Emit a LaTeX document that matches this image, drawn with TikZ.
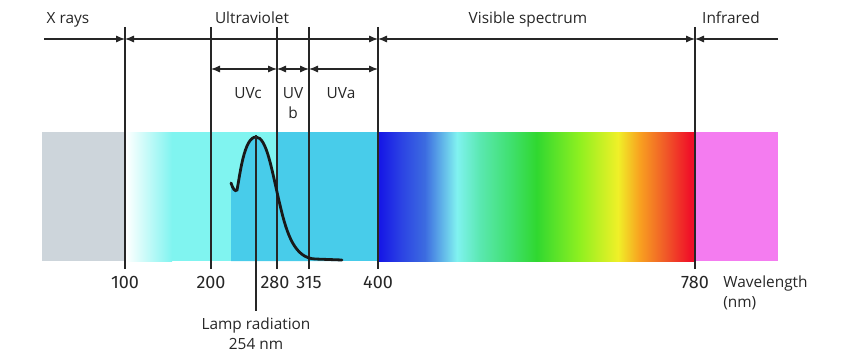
\documentclass[tikz,border=0pt]{standalone}
\usepackage{fontspec}
\usepackage{xcolor}
\setmainfont{Open Sans}
\newfontfamily\numfont{Fira Sans}
\usetikzlibrary{arrows.meta}

\definecolor{xraygrey}{HTML}{CDD5DB}
\definecolor{uvlight}{HTML}{80F4F0}
\definecolor{uvdark}{HTML}{48CCEA}
\definecolor{irpink}{HTML}{F47CF0}
\definecolor{visblue}{HTML}{1414E6}
\definecolor{visblueb}{HTML}{2A40E4}
\definecolor{visbluec}{HTML}{3C6CE0}
\definecolor{viscyan}{HTML}{80F2F0}
\definecolor{visteal}{HTML}{5AE8B0}
\definecolor{visgreena}{HTML}{40E070}
\definecolor{visgreen}{HTML}{30D830}
\definecolor{vislime}{HTML}{90F020}
\definecolor{visyellow}{HTML}{F0F028}
\definecolor{visorange}{HTML}{F8A020}
\definecolor{visorangeb}{HTML}{F05A28}
\definecolor{visred}{HTML}{F01028}

\pgfdeclarehorizontalshading{visiblespec}{100bp}{%
  color(0bp)=(visblue); color(25bp)=(visblue); color(28.45bp)=(visblueb);
  color(32.4bp)=(visbluec); color(37.45bp)=(viscyan); color(41.1bp)=(visteal);
  color(45.8bp)=(visgreena); color(50bp)=(visgreen); color(56.85bp)=(vislime);
  color(62.85bp)=(visyellow); color(66.3bp)=(visorange); color(70.25bp)=(visorangeb);
  color(74.2bp)=(visred); color(75bp)=(visred); color(100bp)=(visred)}

\newcommand{\lampcurve}{(231,183) .. controls (233,189) and (235,192) .. (237,190)
  .. controls (240,175) and (244,137) .. (256,137)
  .. controls (267,137) and (272,172) .. (280,205)
  .. controls (287,235) and (295,258) .. (315,259) -- (342,260)}

\begin{document}
\begin{tikzpicture}[x=0.5pt,y=-0.5pt,
    tick/.style={line width=0.6pt,black!85},
    dim/.style={line width=0.6pt,black!85},
    tip/.style={-{Latex[length=4.5pt,width=3.6pt]}},
    tips/.style={{Latex[length=4.5pt,width=3.6pt]}-{Latex[length=4.5pt,width=3.6pt]}},
    lbl/.style={font=\fontsize{7.7}{10}\selectfont,text=black!85,inner sep=0pt},
    num/.style={font=\numfont\fontsize{9}{10}\selectfont,text=black!85,inner sep=3pt}]
    \useasboundingbox (0,0) rectangle (850,358);

    % Spectrum bar
    \fill[xraygrey] (42,132) rectangle (125,261);
    \fill[uvlight] (125,132) rectangle (378,261);
    \shade[left color=white,right color=uvlight] (126,132) rectangle (172,261);
    \fill[uvdark] (231,261) -- \lampcurve -- (342,261) -- cycle;
    \fill[uvdark] (277,132) rectangle (378,261);
    \shade[shading=visiblespec] (378,132) rectangle (695,261);
    \fill[irpink] (695,132) rectangle (778,261);

    % Tick tops and arrow rows
    \coordinate (top100) at (125,27);
    \coordinate (top200) at (211,27);
    \coordinate (top280) at (277,27);
    \coordinate (top315) at (309,27);
    \coordinate (top400) at (378,27);
    \coordinate (top780) at (695,27);
    \coordinate (top254) at (256,135);
    \coordinate (row1) at (0,39);
    \coordinate (row2) at (0,69);
    \coordinate (xstart) at (44,39);
    \coordinate (irend) at (778,39);

    % Wavelength numbers
    \node[num] (n100) at (125,282) {100};
    \node[num] (n200) at (211,282) {200};
    \node[num] (n280) at (275,282) {280};
    \node[num] (n315) at (309,282) {315};
    \node[num] (n400) at (378,282) {400};
    \node[num] (n780) at (695,282) {780};
    \node[lbl,anchor=north west,align=left] (wl) at (723,275) {Wavelength\\(nm)};

    % Vertical lines
    \draw[tick] (top100) -- (n100.north);
    \draw[tick] (top200) -- (n200.north);
    \draw[tick] (top280) -- (top280 |- n280.north);
    \draw[tick] (top315) -- (n315.north);
    \draw[tick] (top400) -- (n400.north);
    \draw[tick] (top780) -- (n780.north);

    % Lamp curve
    \draw[line width=1.4pt,line cap=round,black!90] \lampcurve;
    \node[lbl,anchor=north,align=center,inner sep=3pt] (lamp) at (256,311) {Lamp radiation\\254 nm};
    \draw[tick] (top254) -- (lamp.north);

    % Range arrows
    \draw[dim,tip] (xstart) -- (top100 |- row1);
    \draw[dim,tips] (top100 |- row1) -- (top400 |- row1);
    \draw[dim,tips] (top400 |- row1) -- (top780 |- row1);
    \draw[dim,tip] (irend) -- (top780 |- row1);
    \draw[dim,tips] (top200 |- row2) -- (top280 |- row2);
    \draw[dim,tips] (top280 |- row2) -- (top315 |- row2);
    \draw[dim,tips] (top315 |- row2) -- (top400 |- row2);

    % Range labels
    \node[lbl,anchor=base] (xrays) at (68,24) {X rays};
    \node[lbl,anchor=base] (uv) at (252,24) {Ultraviolet};
    \node[lbl,anchor=base] (vis) at (528,24) {Visible spectrum};
    \node[lbl,anchor=base] (ir) at (731,24) {Infrared};
    \node[lbl,anchor=base] (uvc) at (248,98) {UVc};
    \node[lbl,anchor=north,align=center] (uvb) at (293,87) {UV\\b};
    \node[lbl,anchor=base] (uva) at (341,98) {UVa};
\end{tikzpicture}
\end{document}
